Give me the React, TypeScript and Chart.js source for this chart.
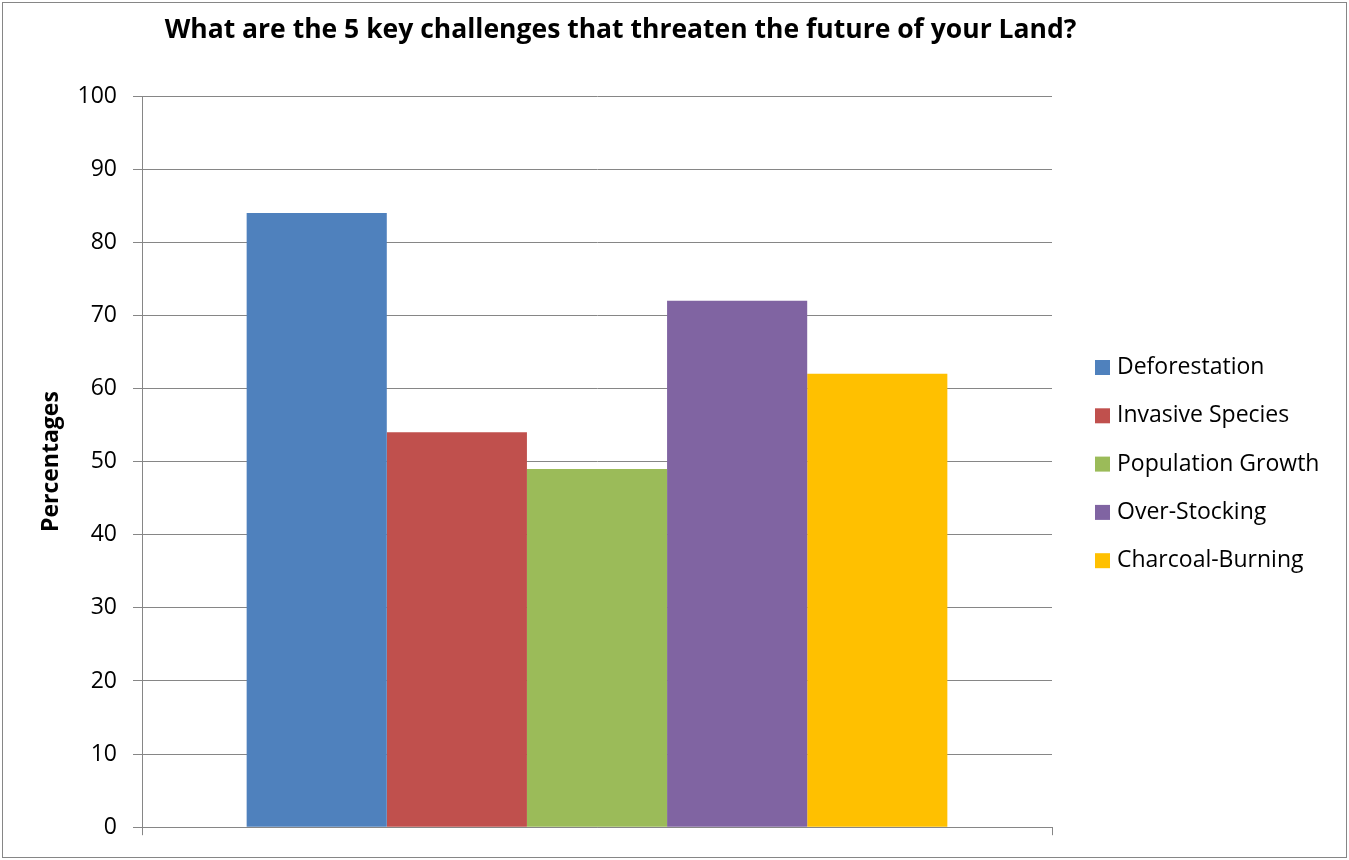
import React, { useEffect, useRef } from "react";
import { Chart, registerables } from "chart.js";

Chart.register(...registerables);

const categories: string[] = [""];
const seriesNames: string[] = [
  "Deforestation",
  "Invasive Species",
  "Population Growth",
  "Over-Stocking",
  "Charcoal-Burning",
];
const seriesValues: number[] = [84, 54, 49, 72, 62];
const seriesColors: string[] = ["#4F81BD", "#C0504D", "#9BBB59", "#8064A2", "#FFC000"];
const yMin = 0;
const yMax = 100;
const yStep = 10;
const chartTitle = "What are the 5 key challenges that threaten the future of your Land?";
const yAxisTitle = "Percentages";

const FONT = "'Open Sans', 'DejaVu Sans', sans-serif";
const AXIS_GRAY = "#868686";

const titlePlugin = {
  id: "customTitle",
  afterDraw(chart: any) {
    const ctx = chart.ctx;
    ctx.save();
    ctx.font = `bold 26.5px ${FONT}`;
    ctx.fillStyle = "#000";
    ctx.textAlign = "center";
    ctx.textBaseline = "middle";
    ctx.fillText(chartTitle, chart.width * 0.4598, 27);
    ctx.restore();
  },
};

const legendPlugin = {
  id: "customLegend",
  afterDraw(chart: any) {
    const ctx = chart.ctx;
    const area = chart.chartArea;
    const items = chart.data.datasets;
    const rowGap = 48.3;
    const midY = (area.top + area.bottom) / 2 + 2.5;
    const boxX = area.right + 43;
    ctx.save();
    ctx.font = `23px ${FONT}`;
    ctx.textAlign = "left";
    ctx.textBaseline = "middle";
    items.forEach((ds: any, i: number) => {
      const cy = midY + (i - (items.length - 1) / 2) * rowGap;
      ctx.fillStyle = ds.backgroundColor;
      ctx.fillRect(boxX, cy - 7.5, 15, 15);
      ctx.fillStyle = "#000";
      ctx.fillText(ds.label, boxX + 22, cy);
    });
    ctx.restore();
  },
};

export default function App() {
  const ref = useRef<HTMLCanvasElement | null>(null);

  useEffect(() => {
    if (!ref.current) return;
    const chart = new Chart(ref.current, {
      type: "bar",
      data: {
        labels: categories,
        datasets: seriesNames.map((name, i) => ({
          label: name,
          data: [seriesValues[i]],
          backgroundColor: seriesColors[i],
          borderWidth: 0,
          barPercentage: 1,
          categoryPercentage: 0.77,
        })),
      },
      options: {
        responsive: false,
        animation: false,
        devicePixelRatio: 1,
        layout: { padding: { top: 93, left: 31, right: 294, bottom: 6 } },
        plugins: {
          legend: { display: false },
          title: { display: false },
          tooltip: { enabled: false },
        },
        scales: {
          x: {
            grid: {
              drawOnChartArea: false,
              tickLength: 8,
              color: AXIS_GRAY,
              offset: true,
            },
            border: { color: AXIS_GRAY },
            ticks: { display: false },
          },
          y: {
            min: yMin,
            max: yMax,
            afterFit(scale: any) {
              scale.width = 108;
            },
            ticks: {
              stepSize: yStep,
              color: "#000",
              padding: 16,
              font: { family: FONT, size: 23 },
            },
            grid: { color: AXIS_GRAY, tickLength: 9 },
            border: { color: AXIS_GRAY },
            title: {
              display: true,
              text: yAxisTitle,
              color: "#000",
              font: { family: FONT, size: 23, weight: "bold" },
              padding: { top: 4, bottom: 0 },
            },
          },
        },
      },
      plugins: [titlePlugin, legendPlugin],
    });
    return () => chart.destroy();
  }, []);

  return (
    <div
      style={{
        position: "absolute",
        left: 0,
        top: 0,
        width: 1349,
        height: 860,
        background: "#fff",
      }}
    >
      <div
        style={{
          position: "absolute",
          left: 2,
          top: 2,
          width: 1345,
          height: 856,
          boxSizing: "border-box",
          border: `1px solid ${AXIS_GRAY}`,
          background: "#fff",
        }}
      >
        <canvas ref={ref} width={1343} height={854} style={{ display: "block" }} />
      </div>
    </div>
  );
}
